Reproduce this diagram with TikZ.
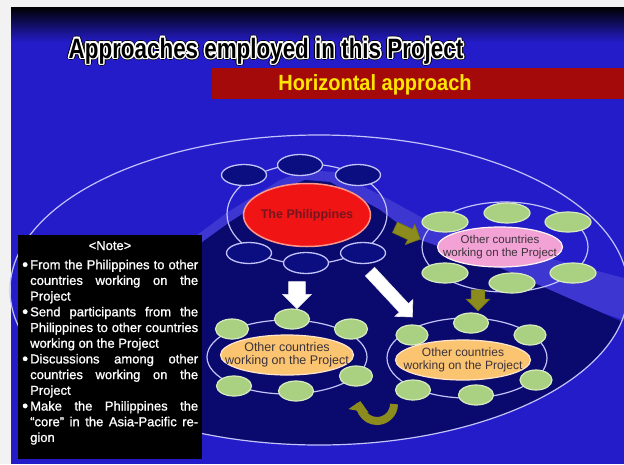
\documentclass[tikz,border=0pt]{standalone}
\usepackage{fontspec}
\usepackage{graphicx}
\setmainfont{Liberation Sans}
\newfontfamily\notefont[FakeBold=1.0]{Liberation Sans}
\usetikzlibrary{shapes.geometric,shapes.arrows,arrows.meta}
\definecolor{pagegray}{RGB}{242,242,242}
\definecolor{slideblue}{RGB}{36,28,200}
\definecolor{navy}{RGB}{10,10,110}
\definecolor{slope}{RGB}{62,54,208}
\definecolor{lav}{RGB}{195,195,252}
\definecolor{navyfill}{RGB}{10,14,128}
\definecolor{redfill}{RGB}{240,20,20}
\definecolor{rededge}{RGB}{255,150,140}
\definecolor{phtext}{RGB}{120,20,30}
\definecolor{pinkfill}{RGB}{242,162,212}
\definecolor{orangefill}{RGB}{250,196,112}
\definecolor{greenfill}{RGB}{170,208,130}
\definecolor{greenedge}{RGB}{215,235,190}
\definecolor{olivec}{RGB}{140,140,30}
\definecolor{olivedk}{RGB}{110,110,20}
\definecolor{bannerred}{RGB}{165,10,10}
\definecolor{bannertext}{RGB}{255,230,0}
\definecolor{celltext}{RGB}{60,50,60}
\newcommand{\notebullet}{\noindent\makebox[8pt][l]{\raisebox{-1pt}{\scalebox{1.3}{\textbullet}}}}
\begin{document}
\begin{tikzpicture}[x=1pt,y=-1pt,
  ringline/.style={draw=lav, line width=1.2pt},
  navyell/.style={ellipse, draw=lav, line width=1.3pt, fill=navyfill, minimum width=45pt, minimum height=21pt, inner sep=0pt},
  greenell/.style={ellipse, draw=greenedge, line width=1.2pt, fill=greenfill, minimum width=#1, minimum height=20pt, inner sep=0pt},
  greenell/.default=46pt,
  pinkell/.style={ellipse, draw=white!85!pink, line width=1.2pt, fill=pinkfill, minimum width=125pt, minimum height=40pt, inner sep=0pt},
  orangeell/.style={ellipse, draw=white!80!orange, line width=1.2pt, fill=orangefill, minimum width=134pt, minimum height=40pt, inner sep=0pt},
  redell/.style={ellipse, draw=rededge, line width=1.5pt, fill=redfill, minimum width=127pt, minimum height=63pt, inner sep=0pt},
  celltxt/.style={text=celltext, align=center, inner sep=0pt},
  olivearrow/.style={single arrow, draw=olivedk, line width=0.6pt, fill=olivec, inner xsep=0pt},
  whitearrow/.style={single arrow, draw=white!85!gray, line width=0.6pt, fill=white, inner xsep=0pt},
  titlefontstyle/.style={font=\fontsize{28}{30}\selectfont\bfseries, anchor=base, inner sep=0pt}
]
\useasboundingbox (0,0) rectangle (624,464);
% page and slide
\fill[pagegray] (0,0) rectangle (624,464);
\fill[slideblue] (11,7) rectangle (624,464);
\shade[top color=black, bottom color=slideblue] (11,7) rectangle (624,42);
% mountain background
\fill[slope] (40,330) -- (150,270) -- (228,212) -- (280,180) -- (305,170) -- (335,172) -- (390,200) -- (430,222) -- (510,248) -- (624,278) -- (624,320) -- (600,312) -- (500,268) -- (420,240) -- (380,210) -- (330,182) -- (305,180) -- (280,190) -- (230,222) -- (150,280) -- (40,340) -- cycle;
\begin{scope}
  \clip (319,290) ellipse [x radius=309, y radius=155];
  \fill[navy] (40,340) -- (150,280) -- (230,222) -- (280,190) -- (305,180) -- (330,182) -- (380,210) -- (420,240) -- (500,268) -- (600,312) -- (640,330) -- (640,470) -- (0,470) -- (0,360) -- cycle;
\end{scope}
\draw[lav, line width=1.2pt] (319,290) ellipse [x radius=309, y radius=155];
% title (outlined text)
\foreach \a in {0,45,...,315}
  \node[titlefontstyle, text=black, shift={(\a:2.6pt)}] at (266,58) {\scalebox{0.8}[1]{Approaches employed in this Project}};
\foreach \a in {0,45,...,315}
  \node[titlefontstyle, text=white, shift={(\a:1.6pt)}] at (266,58) {\scalebox{0.8}[1]{Approaches employed in this Project}};
\node[titlefontstyle, text=black] (title) at (266,58) {\scalebox{0.8}[1]{Approaches employed in this Project}};
% banner
\fill[bannerred] (212,68) rectangle (624,99);
\node[anchor=base, inner sep=0pt, text=bannertext, font=\fontsize{20}{22}\selectfont\bfseries] (banner) at (375,90) {\scalebox{1}[1.1]{Horizontal approach}};
% Philippines cluster
\draw[ringline] (307,214) ellipse [x radius=80, y radius=50];
\node[navyell] (p1) at (244,175) {};
\node[navyell] (p2) at (300,165) {};
\node[navyell] (p3) at (358,175) {};
\node[navyell] (p4) at (249,253) {};
\node[navyell] (p5) at (306,263) {};
\node[navyell] (p6) at (363,253) {};
\node[redell] (ph) at (307,215) {};
\node[inner sep=0pt, text=phtext, font=\fontsize{12.5}{14}\selectfont\bfseries] (phtxt) at (ph.center) {The Philippines};
% right cluster
\draw[ringline] (505,247) ellipse [x radius=83, y radius=45];
\node[greenell] (r1) at (445,222) {};
\node[greenell] (r2) at (507,213) {};
\node[greenell] (r3) at (568,222) {};
\node[greenell] (r4) at (445,273) {};
\node[greenell] (r5) at (512,283) {};
\node[greenell] (r6) at (573,273) {};
\node[pinkell] (oc1) at (500,247) {};
\node[celltxt, font=\fontsize{11.5}{13.5}\selectfont] (oc1t) at (oc1.center) {Other countries\\working on the Project};
% bottom-left cluster
\draw[ringline] (287,357) ellipse [x radius=80, y radius=37];
\node[greenell=33pt] (a1) at (232,329) {};
\node[greenell=35pt] (a2) at (292,319) {};
\node[greenell=33pt] (a3) at (351,329) {};
\node[greenell=33pt] (a4) at (356,376) {};
\node[greenell=35pt] (a5) at (296,391) {};
\node[greenell=35pt] (a6) at (234,386) {};
\node[orangeell, minimum width=133pt] (oc2) at (287,355) {};
\node[celltxt, font=\fontsize{12.5}{13}\selectfont] (oc2t) at (oc2.center) {Other countries\\working on the Project};
% bottom-right cluster
\draw[ringline] (467,358) ellipse [x radius=80, y radius=40];
\node[greenell=32pt] (b1) at (412,335) {};
\node[greenell=35pt] (b2) at (471,323) {};
\node[greenell=32pt] (b3) at (530,335) {};
\node[greenell=32pt] (b4) at (536,380) {};
\node[greenell=35pt] (b5) at (476,395) {};
\node[greenell=35pt] (b6) at (413,390) {};
\node[orangeell, minimum width=135pt] (oc3) at (463,360) {};
\node[celltxt, font=\fontsize{12}{13}\selectfont] (oc3t) at (oc3.center) {Other countries\\working on the Project};
% block arrows
\node[olivearrow, inner ysep=5.5pt, single arrow head extend=5.5pt, minimum height=28pt, rotate=-25] (ar1) at (405,232) {};
\node[olivearrow, inner ysep=6.5pt, single arrow head extend=5pt, minimum height=21pt, rotate=-90] (ar2) at (478,297) {};
\node[whitearrow, inner ysep=8pt, single arrow head extend=6pt, minimum height=27pt, rotate=-90] (ar3) at (297,291) {};
\node[whitearrow, inner ysep=6pt, single arrow head extend=6pt, minimum height=62pt, rotate=-47] (ar4) at (389,292) {};
% curved olive arrow
\coordinate (cu) at (394,404);
\draw[olivec, line width=8pt, -{Triangle[width=20pt,length=10pt]}] (cu) arc[start angle=0, end angle=190, radius=17];
% note box
\node[fill=black, minimum width=184pt, minimum height=224pt, anchor=north west, inner sep=0pt] (notebox) at (18,235) {};
\node[anchor=base, inner sep=0pt, text=white, font=\notefont\fontsize{13}{15.7}\selectfont] (notehead) at (110,250) {<Note>};
\node[anchor=north west, inner sep=0pt, text width=176pt, align=justify, text=white, font=\notefont\fontsize{13}{15.7}\selectfont] (notetext) at (22,259.6) {%
\hangindent=8pt\hangafter=1\notebullet From the Philippines to other\linebreak countries working on the\linebreak Project\par
\hangindent=8pt\hangafter=1\notebullet Send participants from the\linebreak Philippines to other countries\linebreak working on the Project\par
\hangindent=8pt\hangafter=1\notebullet Discussions among other\linebreak countries working on the\linebreak Project\par
\hangindent=8pt\hangafter=1\notebullet Make the Philippines the\linebreak “core” in the Asia-Pacific re-\linebreak gion\par};
\end{tikzpicture}
\end{document}
